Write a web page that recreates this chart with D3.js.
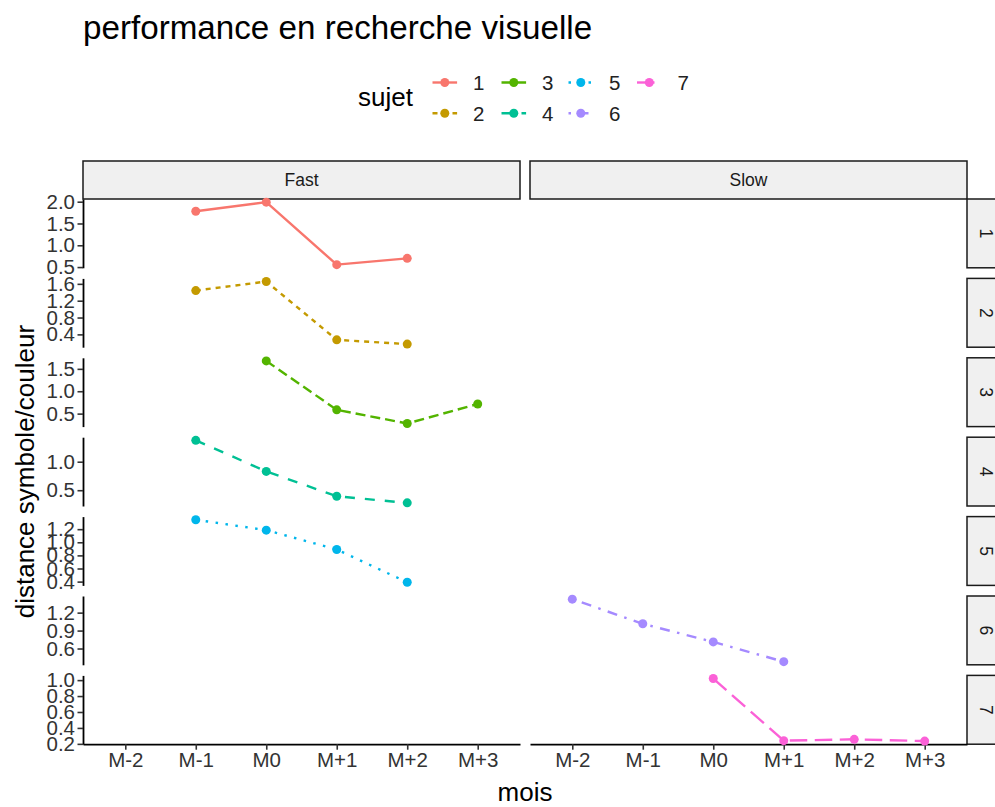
<!DOCTYPE html>
<html><head><meta charset="utf-8">
<script src="https://cdn.jsdelivr.net/npm/d3@7"></script>
<style>
body{margin:0;background:#fff;}
text{font-family:"Liberation Sans",Arial,sans-serif;}
</style>
</head><body>
<svg id="chart" width="995" height="807"></svg>
<script>
// ---------- data ----------
const months = ["M-2","M-1","M0","M+1","M+2","M+3"];
const facetCols = ["Fast","Slow"];
const subjects = ["1","2","3","4","5","6","7"];
const subjectGroup = ["Fast","Fast","Fast","Fast","Fast","Slow","Slow"];
const subjectMonths = [
  ["M-1","M0","M+1","M+2"],
  ["M-1","M0","M+1","M+2"],
  ["M0","M+1","M+2","M+3"],
  ["M-1","M0","M+1","M+2"],
  ["M-1","M0","M+1","M+2"],
  ["M-2","M-1","M0","M+1"],
  ["M0","M+1","M+2","M+3"]
];
const subjectValues = [
  [1.78, 1.99, 0.555, 0.70],
  [1.44, 1.655, 0.27, 0.17],
  [1.677, 0.585, 0.28, 0.715],
  [1.375, 0.83, 0.394, 0.278],
  [1.344, 1.185, 0.89, 0.39],
  [1.426, 1.014, 0.71, 0.38],
  [1.02, 0.24, 0.257, 0.235]
];
const yTickValues = [
  [0.5,1.0,1.5,2.0],
  [0.4,0.8,1.2,1.6],
  [0.5,1.0,1.5],
  [0.5,1.0],
  [0.4,0.6,0.8,1.0,1.2],
  [0.6,0.9,1.2],
  [0.2,0.4,0.6,0.8,1.0]
];
const titleText = "performance en recherche visuelle";
const xTitle = "mois";
const yTitle = "distance symbole/couleur";
const legendTitle = "sujet";

// ---------- styles ----------
const palette = ["#F8766D","#C49A00","#53B400","#00C094","#00B6EB","#A58AFF","#FB61D7"];
const dashes = [null,"5,5","10,5","10,10","2.5,7.5","2.5,7.5,10,7.5","17.5,7.5"];
const lw = 2.4, pr = 4.5;
const L = {left:83, colW:437, colGap:10, top:199, rowH:68.8, rowGap:10.6, stripTop:161};

const svg = d3.select("#chart");
const fmt = d3.format(".1f");

const colX0 = i => L.left + i*(L.colW + L.colGap);
const rowY0 = r => L.top + r*(L.rowH + L.rowGap);

const xScales = facetCols.map((c,i) => d3.scalePoint().domain(months)
  .range([colX0(i), colX0(i)+L.colW]).padding(0.6));

const yScales = subjects.map((s,r) => {
  const ext = d3.extent(subjectValues[r]);
  const pad = (ext[1]-ext[0])*0.05;
  return d3.scaleLinear().domain([ext[0]-pad, ext[1]+pad])
    .range([rowY0(r)+L.rowH, rowY0(r)]);
});

// title
svg.append("text").attr("x",83).attr("y",39).attr("font-size",33.2)
  .attr("fill","#000").text(titleText);

// top strips
facetCols.forEach((c,i) => {
  svg.append("rect").attr("x",colX0(i)).attr("y",L.stripTop)
    .attr("width",L.colW).attr("height",L.top-L.stripTop)
    .attr("fill","#F0F0F0").attr("stroke","#1a1a1a").attr("stroke-width",1.5);
  svg.append("text").attr("x",colX0(i)+L.colW/2).attr("y",(L.stripTop+L.top)/2)
    .attr("text-anchor","middle").attr("dominant-baseline","central")
    .attr("font-size",17.5).attr("fill","#1A1A1A").text(c);
});

// right strips
subjects.forEach((s,r) => {
  const x0 = colX0(1)+L.colW;
  svg.append("rect").attr("x",x0).attr("y",rowY0(r))
    .attr("width",38).attr("height",L.rowH)
    .attr("fill","#F0F0F0").attr("stroke","#1a1a1a").attr("stroke-width",1.5);
  svg.append("text")
    .attr("transform",`translate(${x0+19},${rowY0(r)+L.rowH/2}) rotate(90)`)
    .attr("text-anchor","middle").attr("dominant-baseline","central")
    .attr("font-size",17.5).attr("fill","#1A1A1A").text(s);
});

// y axes (Fast column only)
subjects.forEach((s,r) => {
  const g = svg.append("g").attr("transform",`translate(${L.left},0)`)
    .call(d3.axisLeft(yScales[r]).tickValues(yTickValues[r]).tickFormat(fmt)
      .tickSize(5.5).tickSizeOuter(0).tickPadding(2.5));
  g.select(".domain").attr("stroke","#000").attr("stroke-width",1.8);
  g.selectAll(".tick line").attr("stroke","#333").attr("stroke-width",1.6);
  g.selectAll(".tick text").attr("font-size",20.5).attr("fill","#333")
    .attr("font-family","Liberation Sans, Arial, sans-serif");
});

// x axes (bottom row)
const bottomY = rowY0(subjects.length-1)+L.rowH;
facetCols.forEach((c,i) => {
  const g = svg.append("g").attr("transform",`translate(0,${bottomY})`)
    .call(d3.axisBottom(xScales[i]).tickSize(5.5).tickSizeOuter(0).tickPadding(3));
  g.select(".domain").attr("stroke","#000").attr("stroke-width",1.8);
  g.selectAll(".tick line").attr("stroke","#333").attr("stroke-width",1.6);
  g.selectAll(".tick text").attr("font-size",20.5).attr("fill","#333")
    .attr("font-family","Liberation Sans, Arial, sans-serif");
});

// data
subjects.forEach((s,r) => {
  const ci = facetCols.indexOf(subjectGroup[r]);
  const xs = xScales[ci], ys = yScales[r];
  const pts = subjectMonths[r].map((m,j) => [xs(m), ys(subjectValues[r][j])]);
  const path = svg.append("path").attr("d", d3.line()(pts))
    .attr("fill","none").attr("stroke",palette[r]).attr("stroke-width",lw)
    .attr("stroke-linejoin","round");
  if (dashes[r]) path.attr("stroke-dasharray",dashes[r]);
  svg.selectAll(null).data(pts).enter().append("circle")
    .attr("cx",d=>d[0]).attr("cy",d=>d[1]).attr("r",pr).attr("fill",palette[r]);
});

// axis titles
svg.append("text").attr("x",L.left+(2*L.colW+L.colGap)/2).attr("y",801)
  .attr("text-anchor","middle").attr("font-size",26).attr("fill","#000").text(xTitle);
svg.append("text")
  .attr("transform",`translate(34,${(L.top+bottomY)/2}) rotate(-90)`)
  .attr("text-anchor","middle").attr("font-size",26).attr("fill","#000").text(yTitle);

// legend
svg.append("text").attr("x",358).attr("y",106).attr("font-size",26)
  .attr("fill","#000").text(legendTitle);
const keyLeft = [432.5, 501.5, 568.5, 637];
const keyRowY = [82.5, 113.3];
const keyW = 24.6;
subjects.forEach((s,r) => {
  const col = Math.floor(r/2), row = r%2;
  const kx = keyLeft[col], ky = keyRowY[row];
  const ln = svg.append("line").attr("x1",kx).attr("x2",kx+keyW)
    .attr("y1",ky).attr("y2",ky).attr("stroke",palette[r]).attr("stroke-width",lw);
  if (dashes[r]) ln.attr("stroke-dasharray",dashes[r]);
  svg.append("circle").attr("cx",kx+keyW/2).attr("cy",ky).attr("r",pr).attr("fill",palette[r]);
  svg.append("text").attr("x",kx+40.5).attr("y",ky).attr("dominant-baseline","central")
    .attr("font-size",20.5).attr("fill","#222").text(s);
});
</script>
</body></html>
